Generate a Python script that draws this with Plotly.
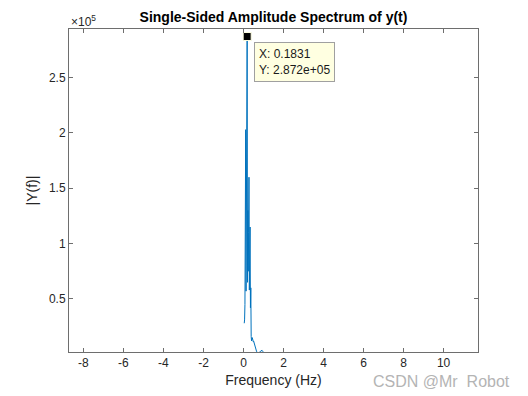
import plotly.graph_objects as go

# Frequency grid (Hz) and single-sided amplitude |Y(f)|
freq = [0.0366, 0.0549, 0.0732, 0.0915, 0.1098, 0.1281, 0.1465, 0.1648, 0.1831,
        0.2014, 0.2197, 0.2380, 0.2563, 0.2746, 0.2930, 0.3113, 0.3296, 0.3479,
        0.3662, 0.3845, 0.4028, 0.4211, 0.4394, 0.4578, 0.4761, 0.4944, 0.5127,
        0.5310, 0.5493, 0.5676, 0.5859, 0.6042, 0.6225, 0.6408, 0.6591, 0.6775,
        0.6958, 0.7141, 0.7324, 0.7507, 0.7690, 0.7873, 0.8056, 0.8239, 0.8423,
        0.8606, 0.8789, 0.8972, 0.9155, 0.9338, 0.9521, 0.9704, 0.9887, 1.0070,
        1.0253, 1.0436]
amp = [28000, 31000, 45000, 120000, 203000, 57000, 140000, 90000, 287200,
       65000, 130000, 75000, 110000, 160000, 58000, 95000, 115000, 42000,
       60000, 16000, 12000, 14000, 15000, 12000, 13000, 11000, 11500,
       10000, 9000, 7500, 6000, 4500, 3500, 2500, 2200, 1800,
       1500, 1400, 1600, 1300, 1500, 1700, 1400, 1600, 1900,
       2400, 3200, 3600, 3000, 3400, 2800, 2200, 1800, 1500,
       1200, 1000]

x_ticks = [-8, -6, -4, -2, 0, 2, 4, 6, 8, 10]
x_ticktext = ["-8", "-6", "-4", "-2", "0", "2", "4", "6", "8", "10"]
y_ticks = [50000, 100000, 150000, 200000, 250000]
y_ticktext = ["0.5", "1", "1.5", "2", "2.5"]
x_range = [-8.72, 11.72]
y_range = [2000, 294000]

peak_i = amp.index(max(amp))
peak_f = freq[peak_i]
peak_a = amp[peak_i]

FONT = "Liberation Sans, Arial, sans-serif"
AX = "#6e6e6e"
TXT = "#262626"

fig = go.Figure()
fig.add_trace(go.Scatter(x=freq, y=amp, mode="lines",
                         line=dict(color="#0072BD", width=1),
                         hoverinfo="skip", showlegend=False))
fig.add_trace(go.Scatter(x=[peak_f], y=[peak_a], mode="markers",
                         marker=dict(symbol="square", size=8, color="black",
                                     line=dict(color="#ffffe1", width=1)),
                         cliponaxis=False, hoverinfo="skip", showlegend=False))

fig.add_annotation(x=peak_f, y=peak_a, xref="x", yref="y",
                   text="X: %.4f<br>Y: %.3e" % (peak_f, peak_a),
                   showarrow=True, arrowcolor="rgba(0,0,0,0)", arrowwidth=0.1,
                   ax=47, ay=25, align="left",
                   bgcolor="#ffffe1", bordercolor="#a0a0a0", borderwidth=1, borderpad=4,
                   font=dict(family=FONT, size=12, color="#1a1a1a"))

fig.add_annotation(x=0, y=1, xref="paper", yref="paper", xanchor="left", yanchor="bottom",
                   text="×10<sup>5</sup>", showarrow=False, yshift=-2,
                   font=dict(family=FONT, size=12, color=TXT))

fig.add_annotation(x=1.083, y=-0.092, xref="paper", yref="paper", xanchor="right",
                   yanchor="middle", text="CSDN @Mr  Robot", showarrow=False,
                   font=dict(family=FONT, size=16, color="#b4b4b4"))

fig.update_layout(
    width=528, height=396,
    margin=dict(l=69, r=50, t=29, b=44),
    paper_bgcolor="white", plot_bgcolor="white",
    title=dict(text="<b>Single-Sided Amplitude Spectrum of y(t)</b>",
               x=0.518, xanchor="center", y=0.957, yanchor="middle",
               font=dict(family=FONT, size=14, color="black")),
    font=dict(family=FONT, size=12, color=TXT),
    xaxis=dict(range=x_range, tickvals=x_ticks, ticktext=x_ticktext, ticks="inside",
               ticklen=4, tickcolor=AX, showline=True, linecolor=AX, linewidth=1,
               mirror="ticks", showgrid=False, zeroline=False,
               title=dict(text="Frequency (Hz)", standoff=5, font=dict(size=14)),
               tickfont=dict(size=12, color=TXT)),
    yaxis=dict(range=y_range, tickvals=y_ticks, ticktext=y_ticktext, ticks="inside",
               ticklen=4, tickcolor=AX, showline=True, linecolor=AX, linewidth=1,
               mirror="ticks", showgrid=False, zeroline=False,
               title=dict(text="|Y(f)|", standoff=8, font=dict(size=14)),
               tickfont=dict(size=12, color=TXT)),
)

fig.write_html("out.html", config={"displayModeBar": False},
               post_script="document.body.style.margin='0';")
